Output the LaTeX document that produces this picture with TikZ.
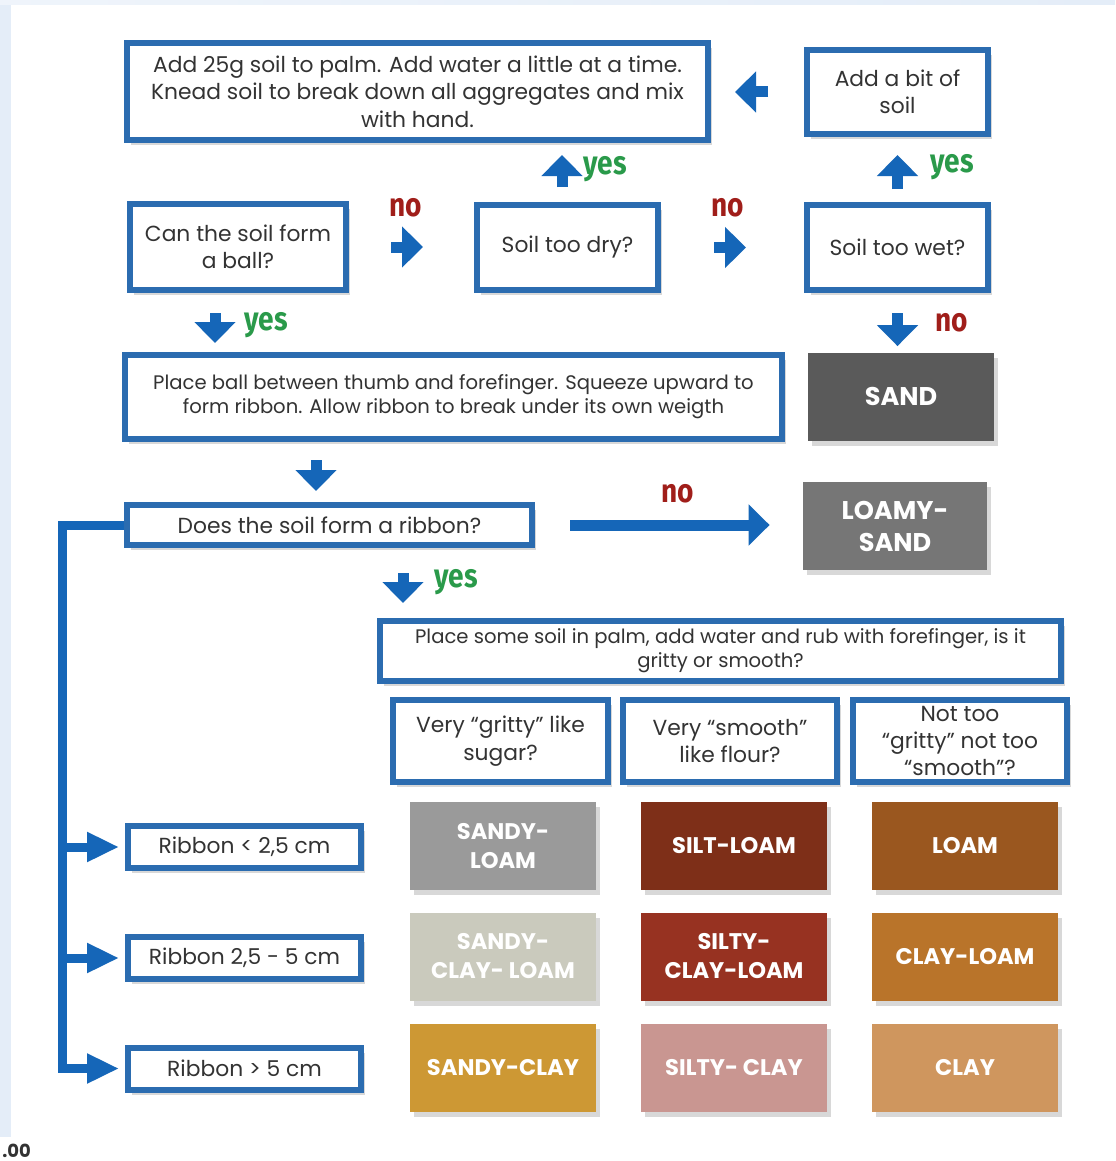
\documentclass[tikz,border=0pt]{standalone}
\usepackage{fontspec}
\setmainfont{Poppins}
\newfontfamily\answerfont[FakeStretch=0.85]{Fira Sans}
\usetikzlibrary{arrows.meta, shadows, calc}

\definecolor{frameblue}{HTML}{2B6CB0}
\definecolor{arrowblue}{HTML}{1566B8}
\definecolor{nored}{HTML}{A01E1A}
\definecolor{yesgreen}{HTML}{2A9A4A}
\definecolor{txtgray}{HTML}{333333}
\definecolor{bgblue}{HTML}{E4EDF8}
\definecolor{sandcol}{HTML}{5A5A5A}
\definecolor{loamysandcol}{HTML}{767676}
\definecolor{sandyloamcol}{HTML}{9A9A9A}
\definecolor{siltloamcol}{HTML}{7E2F18}
\definecolor{loamcol}{HTML}{9A571F}
\definecolor{sandyclayloamcol}{HTML}{CACABD}
\definecolor{siltyclayloamcol}{HTML}{973221}
\definecolor{clayloamcol}{HTML}{B9742A}
\definecolor{sandyclaycol}{HTML}{CD9834}
\definecolor{siltyclaycol}{HTML}{C99691}
\definecolor{claycol}{HTML}{CF965E}

\begin{document}
\begin{tikzpicture} [
    x=0.5pt, y=-0.5pt,
    box/.style={rectangle, draw=frameblue, line width=3pt, fill=white, text=txtgray, align=center, inner sep=2pt, font=\fontsize{10.9}{13.7}\selectfont, drop shadow={shadow xshift=2pt, shadow yshift=-2.5pt, opacity=0.3}},
    smallbox/.style={box, font=\fontsize{9.8}{12}\selectfont},
    soil/.style={rectangle, text=white, align=center, font=\fontsize{11.3}{14.5}\selectfont\bfseries, minimum width=93pt, minimum height=44pt, drop shadow={shadow xshift=2pt, shadow yshift=-2.5pt, opacity=0.3}},
    bigsoil/.style={soil, font=\fontsize{12.8}{16}\selectfont\bfseries},
    flowarrow/.style={draw=arrowblue, line width=5.5pt, -{Triangle[width=20pt,length=10.5pt]}},
    branchline/.style={draw=arrowblue, line width=4.5pt, -{Triangle[width=14pt,length=16pt]}},
    nolabel/.style={text=nored, font=\answerfont\bfseries\fontsize{16.5}{16.5}\selectfont},
    yeslabel/.style={text=yesgreen, font=\answerfont\bfseries\fontsize{16.5}{16.5}\selectfont}
]
\useasboundingbox (0,0) rectangle (1115,1161);

% page background
\fill[white] (0,0) rectangle (1115,1161);
\fill[bgblue] (0,0) rectangle (11,1137);
\shade[left color=bgblue!60, right color=bgblue] (0,0) rectangle (1115,5);
\node[anchor=base west, inner sep=0pt, text=txtgray, font=\bfseries\fontsize{9}{9}\selectfont] (pagenum) at (2,1157) {.00};

% first part: ball test
\node[box, minimum width=290.5pt, minimum height=48.5pt] (knead) at (417.5,91.5) {Add 25g soil to palm. Add water a little at a time.\\Knead soil to break down all aggregates and mix\\with hand.};
\node[box, minimum width=90.5pt, minimum height=42pt] (addbit) at (897.5,92) {Add a bit of\\soil};
\node[box, minimum width=108pt, minimum height=43pt] (ball) at (238,247) {Can the soil form\\a ball?};
\node[box, minimum width=90.5pt, minimum height=42.5pt] (dry) at (567.5,247.5) {Soil too dry?};
\node[box, minimum width=90.5pt, minimum height=42.5pt] (wet) at (897.5,247.5) {Soil too wet?};
\node[smallbox, minimum width=328.5pt, minimum height=42pt] (squeeze) at (453.5,397) {Place ball between thumb and forefinger. Squeeze upward to\\form ribbon. Allow ribbon to break under its own weigth};
\node[bigsoil, fill=sandcol] (sand) at (901,396.5) {SAND};

% second part: ribbon test
\node[box, minimum width=202.5pt, minimum height=20pt] (ribbon) at (329.5,525) {Does the soil form a ribbon?};
\node[bigsoil, fill=loamysandcol, minimum width=92pt] (loamy) at (895,526) {LOAMY-\\SAND};
\node[smallbox, minimum width=340.5pt, minimum height=30pt] (gritty) at (720.5,651) {Place some soil in palm, add water and rub with forefinger, is it\\gritty or smooth?};
\node[box, minimum width=107.5pt, minimum height=41pt] (sugar) at (500.5,741) {Very “gritty” like\\sugar?};
\node[box, minimum width=107pt, minimum height=41pt] (flour) at (730,741) {Very “smooth”\\like flour?};
\node[box, minimum width=107pt, minimum height=41pt] (middle) at (960,741) {Not too\\“gritty” not too\\“smooth”?};

\node[box, minimum width=116.5pt, minimum height=21pt] (rshort) at (244.5,847) {Ribbon < 2,5 cm};
\node[box, minimum width=116.5pt, minimum height=21pt] (rmid) at (244.5,958) {Ribbon 2,5 - 5 cm};
\node[box, minimum width=116.5pt, minimum height=21pt] (rlong) at (244.5,1068.5) {Ribbon > 5 cm};

% soil classes
\node[soil, fill=sandyloamcol] (sandyloam) at (503,846) {SANDY-\\LOAM};
\node[soil, fill=siltloamcol] (siltloam) at (734,846) {SILT-LOAM};
\node[soil, fill=loamcol] (loam) at (965,846) {LOAM};
\node[soil, fill=sandyclayloamcol] (sandyclayloam) at (503,956.5) {SANDY-\\CLAY- LOAM};
\node[soil, fill=siltyclayloamcol] (siltyclayloam) at (734,956.5) {SILTY-\\CLAY-LOAM};
\node[soil, fill=clayloamcol] (clayloam) at (965,956.5) {CLAY-LOAM};
\node[soil, fill=sandyclaycol] (sandyclay) at (503,1067.5) {SANDY-CLAY};
\node[soil, fill=siltyclaycol] (siltyclay) at (734,1067.5) {SILTY- CLAY};
\node[soil, fill=claycol] (clay) at (965,1067.5) {CLAY};

% arrows
\draw[flowarrow, shorten <=18pt, shorten >=12pt] (addbit.west) -- (addbit.west -| knead.east);
\draw[flowarrow, shorten <=7.5pt, shorten >=6pt] ([xshift=-2.75pt]dry.north) -- ([xshift=-2.75pt]dry.north |- knead.south);
\draw[flowarrow, shorten <=6.5pt, shorten >=9pt] (wet.north) -- (wet.north |- addbit.south);
\draw[flowarrow, shorten <=21pt, shorten >=25.5pt] (ball.east) -- (ball.east -| dry.west);
\draw[flowarrow, shorten <=26.5pt, shorten >=29pt] (dry.east) -- (dry.east -| wet.west);
\draw[flowarrow, shorten <=10pt, shorten >=4.5pt] ([xshift=-11.5pt]ball.south) -- ([xshift=-11.5pt]ball.south |- squeeze.north);
\draw[flowarrow, shorten <=10pt, shorten >=3pt] (wet.south) -- (wet.south |- sand.north);
\draw[flowarrow, shorten <=9pt, shorten >=5.5pt] ([xshift=-6.75pt]ribbon.north |- squeeze.south) -- ([xshift=-6.75pt]ribbon.north);
\draw[flowarrow, shorten <=17.5pt, shorten >=16.5pt] (ribbon.east) -- (ribbon.east -| loamy.west);
\draw[flowarrow, shorten <=12.5pt, shorten >=7.5pt] ([xshift=36.75pt]ribbon.south) -- ([xshift=36.75pt]ribbon.south |- gritty.north);

\coordinate (trunk) at (62,1068.5);
\draw[branchline, shorten >=3pt] (ribbon.west) -| (trunk) -- (rlong.west);
\draw[branchline, shorten >=3pt] (rshort.west -| trunk) -- (rshort.west);
\draw[branchline, shorten >=3pt] (rmid.west -| trunk) -- (rmid.west);

% yes / no labels
\node[yeslabel] (yesdry) at (605,169) {yes};
\node[yeslabel] (yeswet) at (952,167) {yes};
\node[nolabel] (noball) at (406,208) {no};
\node[nolabel] (nodry) at (728,208) {no};
\node[yeslabel] (yesball) at (266,325) {yes};
\node[nolabel] (nowet) at (952,323) {no};
\node[nolabel] (noribbon) at (678,494) {no};
\node[yeslabel] (yesribbon) at (456,582) {yes};

\end{tikzpicture}
\end{document}
